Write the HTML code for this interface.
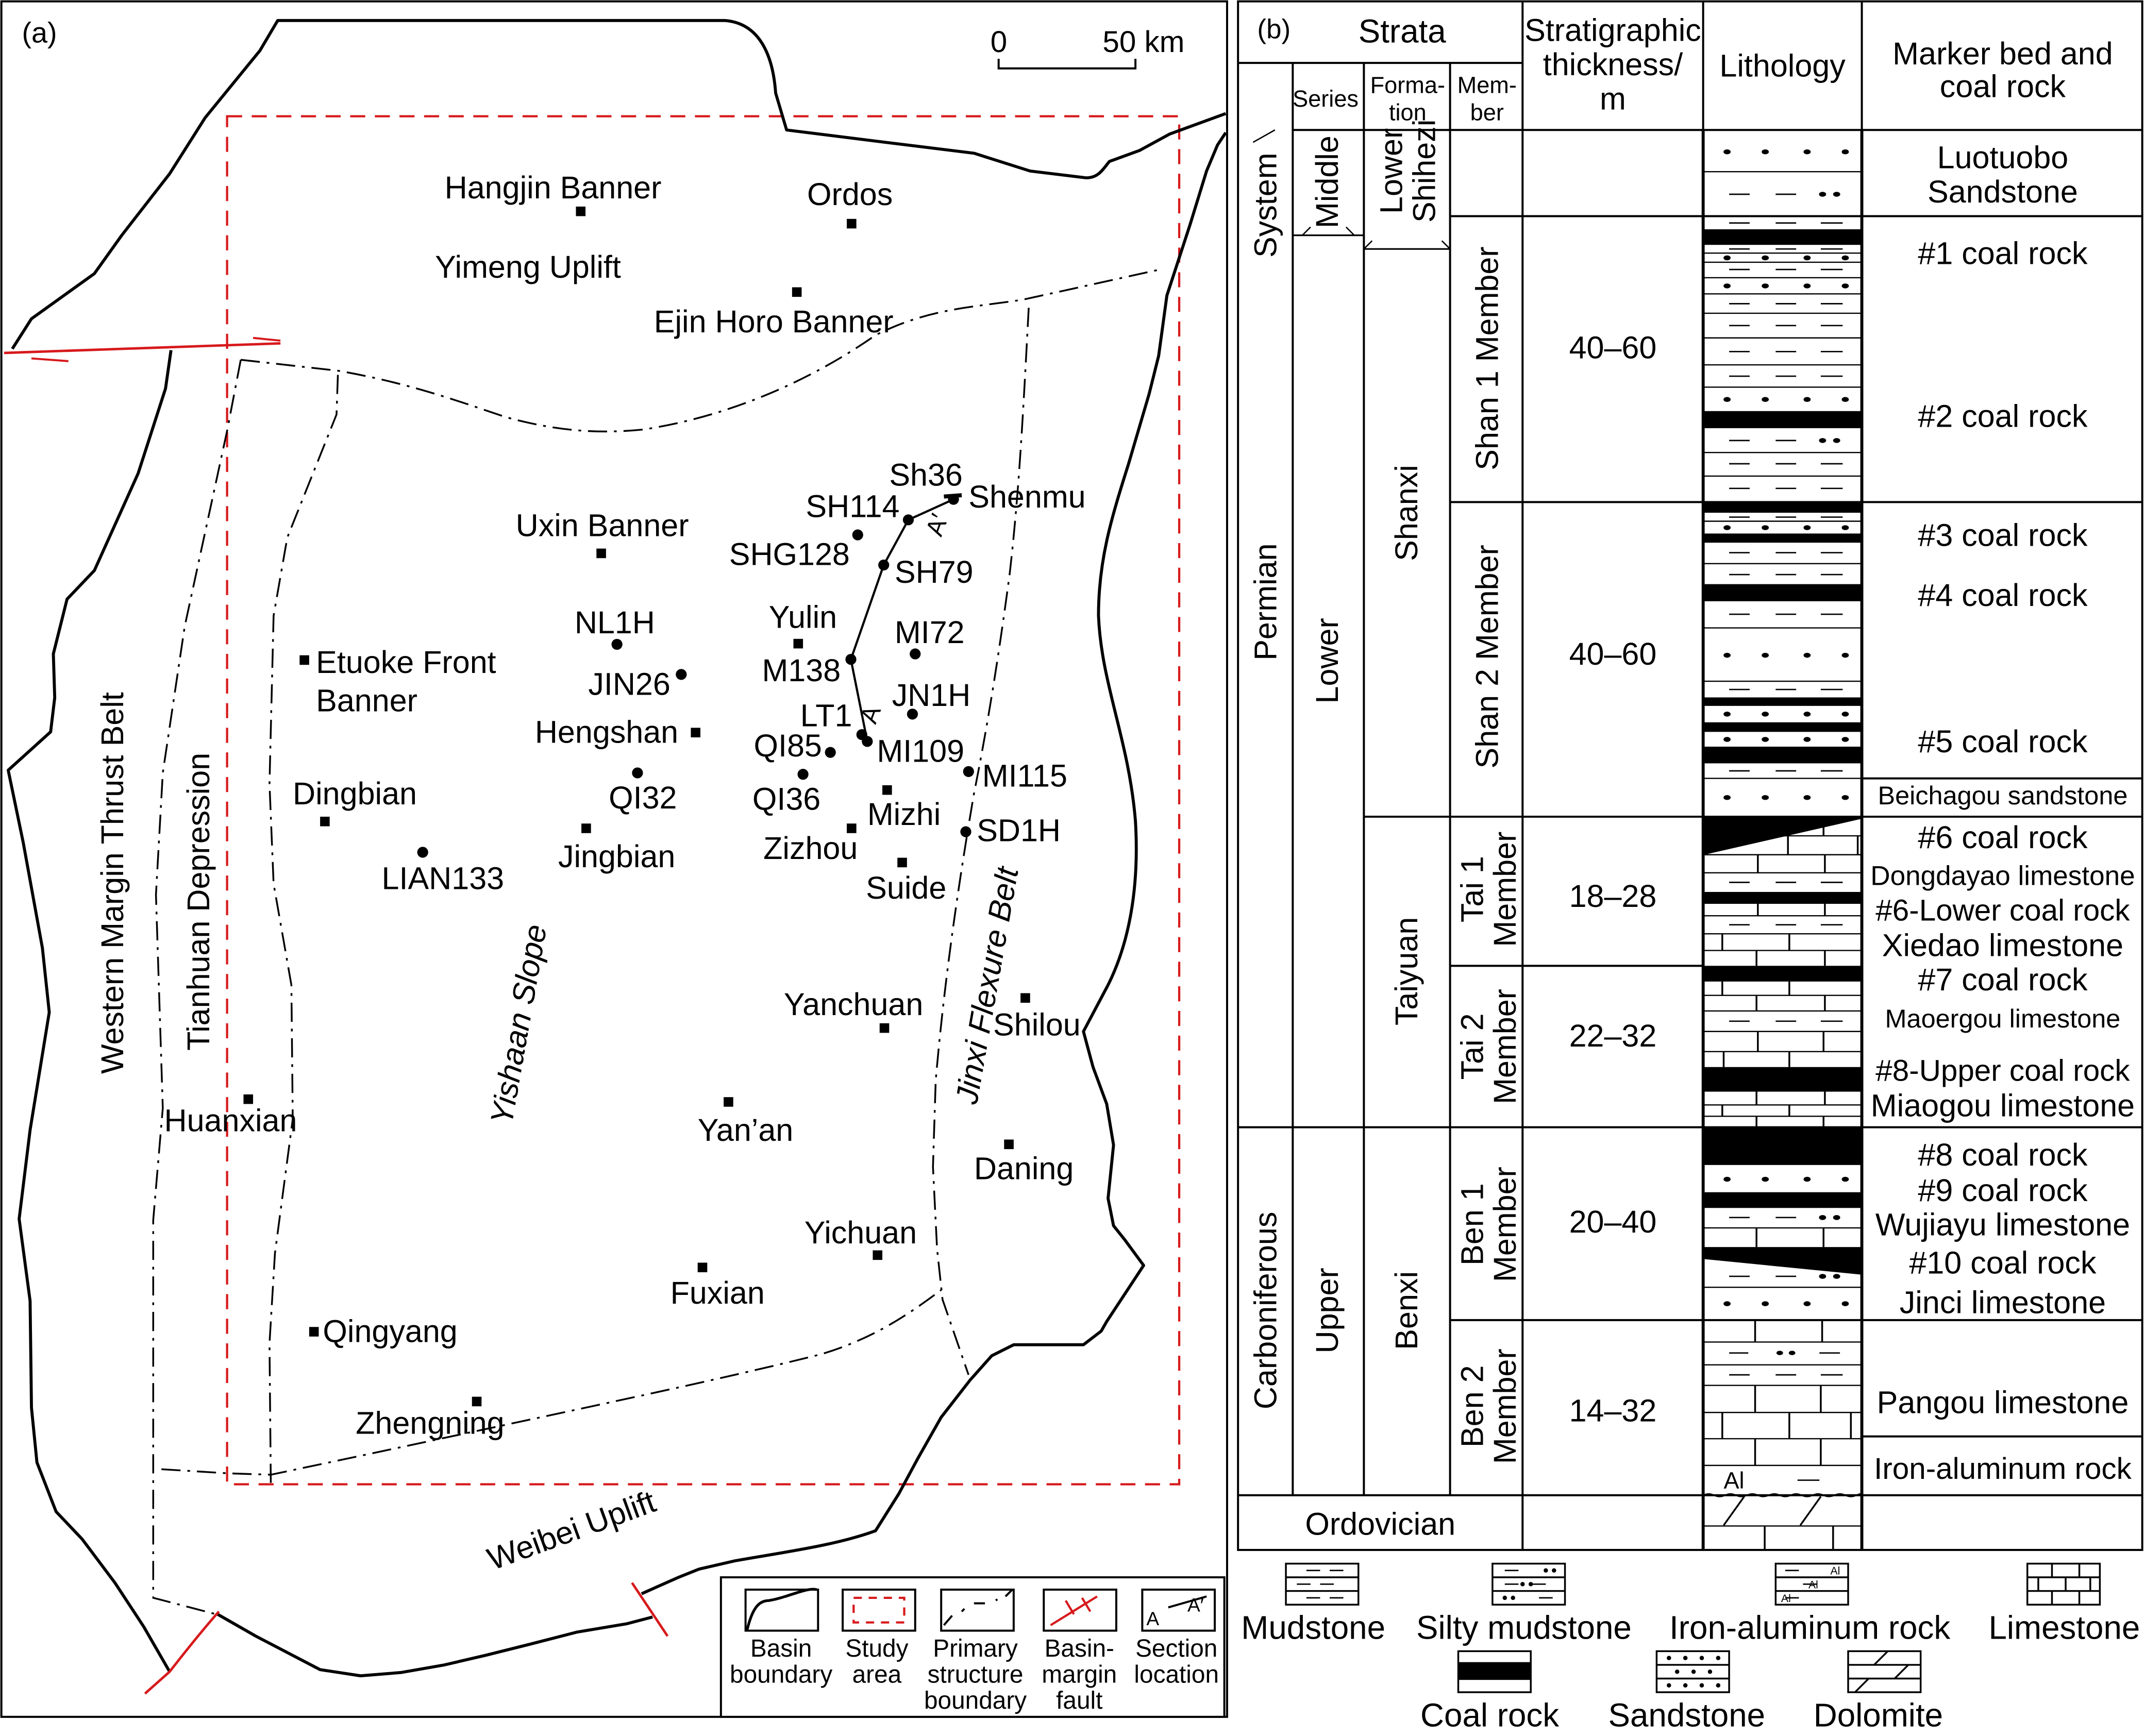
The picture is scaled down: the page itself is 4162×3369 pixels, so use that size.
<!DOCTYPE html>
<html><head><meta charset="utf-8"><style>
html,body{margin:0;padding:0;background:#fff;}
svg{display:block;}
text{font-family:"Liberation Sans",Arial,sans-serif;fill:#000;}
</style></head><body>
<svg width="4162" height="3369" viewBox="0 0 1568 1269" preserveAspectRatio="none" xmlns="http://www.w3.org/2000/svg">
<defs>
<g id="dash"><line x1="1264" y1="0" x2="1279" y2="0" stroke="#000" stroke-width="1"/><line x1="1298" y1="0" x2="1313" y2="0" stroke="#000" stroke-width="1"/><line x1="1331" y1="0" x2="1347" y2="0" stroke="#000" stroke-width="1"/></g>
<g id="dots"><ellipse cx="1262.5" cy="0" rx="2.6" ry="1.8"/><ellipse cx="1290.4" cy="0" rx="2.6" ry="1.8"/><ellipse cx="1321" cy="0" rx="2.6" ry="1.8"/><ellipse cx="1348.9" cy="0" rx="2.6" ry="1.8"/></g>
<g id="dd"><line x1="1264" y1="0" x2="1279" y2="0" stroke="#000" stroke-width="1"/><line x1="1298" y1="0" x2="1313" y2="0" stroke="#000" stroke-width="1"/><ellipse cx="1332.3" cy="0" rx="2.6" ry="1.8"/><ellipse cx="1342.6" cy="0" rx="2.6" ry="1.8"/></g>
</defs>
<rect width="1568" height="1269" fill="#fff"/>

<!-- ===== PANEL A ===== -->
<rect x="1" y="1" width="896" height="1254" fill="none" stroke="#000" stroke-width="1.5"/>
<text x="16" y="31" font-size="21">(a)</text>
<text x="724" y="38" font-size="22">0</text>
<text x="806" y="38" font-size="22">50 km</text>
<path d="M730 43 V50 H830 V43" fill="none" stroke="#000" stroke-width="1.5"/>

<rect x="166" y="85" width="696" height="1000" fill="none" stroke="#d7191c" stroke-width="1.6" stroke-dasharray="11,7"/>

<g fill="none" stroke="#000" stroke-width="2.2" stroke-linejoin="round">
<path d="M9 255 L23 233 L69 200 L89 172 L124 127 L150 86 L190 37 L203 15 L530 15 C555 17 565 40 567 68 L575 95 L647 104 L712 112 L753 125 L794 130 C803 130 806 124 811 118 L833 110 L855 98 L896 83"/>
<path d="M125 256 L121 284 L101 346 L69 417 L49 438 L39 478 L40 510 L37 535 L6 563 L17 616 L31 693 L36 740 L22 826 L14 891 L22 951 L23 1029 L27 1069 L41 1105 L60 1125 L75 1145 L84 1157 L105 1189 L124 1222"/>
<path d="M896 97 L890 106 L882 125 L870 164 L853 216 L847 260 L840 288 L825 339 C812 380 803 410 803 450 C805 500 825 540 830 600 C833 650 825 690 810 720 L792 754 L799 780 L809 807 L814 837 L810 876 L814 896 L822 906 L836 925 L809 966 L805 973 L792 983 L741 983 L725 991 L709 1009 L688 1036 L671 1066 L657 1092 L640 1119 C610 1130 570 1135 537 1141 L511 1147 L496 1153 L469 1165"/>
<path d="M477 1182 L458 1187 L422 1193 L387 1202 L355 1210 L325 1217 L293 1222.6 L263.6 1225 L234 1220.5 L187 1196 L159 1180"/>
</g>

<line x1="3" y1="258" x2="205" y2="251" stroke="#d7191c" stroke-width="1.8"/>
<path d="M185 247 L205 249" stroke="#d7191c" stroke-width="1.5" fill="none"/>
<path d="M23 262 L50 264" stroke="#d7191c" stroke-width="1.5" fill="none"/>
<path d="M106 1238 L124 1222 Q145 1195 160 1178" stroke="#d7191c" stroke-width="1.8" fill="none"/>
<line x1="462" y1="1157" x2="488" y2="1196" stroke="#d7191c" stroke-width="1.8"/>

<g fill="none" stroke="#000" stroke-width="1.3" stroke-dasharray="14,5,2,5">
<path d="M176 263 L247 271 C300 280 340 295 370 305 C400 313 430 318 470 314 C530 305 590 280 640 245 C680 225 710 225 748 219 L848 197"/>
<path d="M176 263 L166 315 L135 458 L119 565 L114 654 L119 810 L112 892 L112 1168 L116 1169 L158 1180"/>
<path d="M247 274 L246 303 L210 393 L200 450 L197 573 L200 646 L213 720 L214 818 L201 916 L197 982 L198 1088"/>
<path d="M752 225 C748 300 745 360 738 420 C730 480 722 530 712 580 C700 650 690 720 684 790 L682 853 L685 913 L689 950 L708 1005"/>
<path d="M118 1074 L167 1077 L198 1078 C260 1065 330 1050 400 1035 C470 1020 540 1005 600 990 C640 978 665 960 688 943"/>
</g>

<polyline points="634,542 622,482 646,413 664,380 697,365" fill="none" stroke="#000" stroke-width="1.6"/>
<line x1="690" y1="363" x2="703" y2="362" stroke="#000" stroke-width="3"/>
<text x="688" y="393" font-size="18" transform="rotate(-70 688 393)">A′</text>
<text x="640" y="530" font-size="18" transform="rotate(-70 640 530)">A</text>

<g fill="#000">
<rect x="421" y="151" width="7" height="7"/><rect x="619" y="160" width="7" height="7"/><rect x="579" y="210" width="7" height="7"/>
<rect x="436" y="401" width="7" height="7"/><rect x="580" y="467" width="7" height="7"/><rect x="219" y="479" width="7" height="7"/>
<rect x="505" y="532" width="7" height="7"/><rect x="234" y="597" width="7" height="7"/><rect x="645" y="574" width="7" height="7"/>
<rect x="425" y="602" width="7" height="7"/><rect x="619" y="602" width="7" height="7"/><rect x="656" y="627" width="7" height="7"/>
<rect x="643" y="748" width="7" height="7"/><rect x="746" y="726" width="7" height="7"/><rect x="178" y="800" width="7" height="7"/>
<rect x="529" y="802" width="7" height="7"/><rect x="734" y="833" width="7" height="7"/><rect x="638" y="914" width="7" height="7"/>
<rect x="510" y="923" width="7" height="7"/><rect x="226" y="970" width="7" height="7"/><rect x="345" y="1021" width="7" height="7"/>
<circle cx="697" cy="365" r="4"/><circle cx="664" cy="380" r="4"/><circle cx="627" cy="391" r="4"/><circle cx="646" cy="413" r="4"/>
<circle cx="669" cy="478" r="4"/><circle cx="451" cy="471" r="4"/><circle cx="498" cy="493" r="4"/><circle cx="622" cy="482" r="4"/>
<circle cx="667" cy="522" r="4"/><circle cx="630" cy="537" r="4"/><circle cx="634" cy="542" r="4"/><circle cx="607" cy="550" r="4"/>
<circle cx="708" cy="564" r="4"/><circle cx="466" cy="565" r="4"/><circle cx="587" cy="566" r="4"/><circle cx="706" cy="608" r="4"/>
<circle cx="309" cy="623" r="4"/>
</g>
<g font-size="23">
<text x="325" y="145">Hangjin Banner</text>
<text x="590" y="150">Ordos</text>
<text x="318" y="203">Yimeng Uplift</text>
<text x="478" y="243">Ejin Horo Banner</text>
<text x="650" y="355">Sh36</text>
<text x="708" y="371">Shenmu</text>
<text x="589" y="378">SH114</text>
<text x="533" y="413">SHG128</text>
<text x="377" y="392">Uxin Banner</text>
<text x="654" y="426">SH79</text>
<text x="562" y="459">Yulin</text>
<text x="654" y="470">MI72</text>
<text x="420" y="463">NL1H</text>
<text x="231" y="492">Etuoke Front</text>
<text x="231" y="520">Banner</text>
<text x="430" y="508">JIN26</text>
<text x="557" y="498">M138</text>
<text x="652" y="516">JN1H</text>
<text x="391" y="543">Hengshan</text>
<text x="585" y="531">LT1</text>
<text x="551" y="553">QI85</text>
<text x="641" y="557">MI109</text>
<text x="718" y="575">MI115</text>
<text x="214" y="588">Dingbian</text>
<text x="445" y="591">QI32</text>
<text x="550" y="592">QI36</text>
<text x="634" y="603">Mizhi</text>
<text x="714" y="615">SD1H</text>
<text x="408" y="634">Jingbian</text>
<text x="558" y="628">Zizhou</text>
<text x="633" y="657">Suide</text>
<text x="279" y="650">LIAN133</text>
<text x="573" y="742">Yanchuan</text>
<text x="726" y="757">Shilou</text>
<text x="120" y="827">Huanxian</text>
<text x="510" y="834">Yan’an</text>
<text x="712" y="862">Daning</text>
<text x="588" y="909">Yichuan</text>
<text x="490" y="953">Fuxian</text>
<text x="236" y="981">Qingyang</text>
<text x="260" y="1048">Zhengning</text>
<text x="0" y="0" transform="translate(90,785) rotate(-90)">Western Margin Thrust Belt</text>
<text x="0" y="0" transform="translate(153,768) rotate(-90)">Tianhuan Depression</text>
<text x="0" y="0" font-style="italic" transform="translate(374,823) rotate(-80)">Yishaan Slope</text>
<text x="0" y="0" font-style="italic" transform="translate(714,808) rotate(-80)">Jinxi Flexure Belt</text>
<text x="0" y="0" transform="translate(360,1148) rotate(-20)">Weibei Uplift</text>
</g>

<rect x="527" y="1153" width="368" height="102" fill="#fff" stroke="#000" stroke-width="1.5"/>
<g fill="none" stroke="#000" stroke-width="1.5">
<rect x="545" y="1162" width="53" height="30"/><rect x="616" y="1162" width="53" height="30"/><rect x="688" y="1162" width="53" height="30"/><rect x="763" y="1162" width="53" height="30"/><rect x="835" y="1162" width="53" height="30"/>
<path d="M546 1192 C550 1175,555 1170,562 1170 C575 1168,590 1160,597 1162" stroke-width="2"/>
<path d="M690 1188 L696 1181 M703 1178 L705 1176 M712 1172 L720 1172 M728 1170 L729 1169 M735 1167 L740 1162"/>
<path d="M854 1175 L882 1167"/>
</g>
<rect x="624" y="1168" width="37" height="18" fill="none" stroke="#d7191c" stroke-width="1.6" stroke-dasharray="6,5"/>
<g stroke="#d7191c" stroke-width="1.6"><line x1="768" y1="1188" x2="802" y2="1167"/><line x1="779" y1="1170" x2="785" y2="1180"/><line x1="791" y1="1168" x2="797" y2="1178"/></g>
<text x="838" y="1188" font-size="14">A</text><text x="868" y="1178" font-size="14">A′</text>
<g font-size="18" text-anchor="middle">
<text x="571" y="1211">Basin</text><text x="571" y="1230">boundary</text>
<text x="641" y="1211">Study</text><text x="641" y="1230">area</text>
<text x="713" y="1211">Primary</text><text x="713" y="1230">structure</text><text x="713" y="1249">boundary</text>
<text x="789" y="1211">Basin-</text><text x="789" y="1230">margin</text><text x="789" y="1249">fault</text>
<text x="860" y="1211">Section</text><text x="860" y="1230">location</text>
</g>

<!-- ===== PANEL B ===== -->
<g stroke="#000" stroke-width="1.5" fill="none">
<rect x="905" y="1" width="661" height="1132"/>
<line x1="1113" y1="1" x2="1113" y2="1133"/>
<line x1="1245" y1="1" x2="1245" y2="1133"/>
<line x1="1361" y1="1" x2="1361" y2="1133"/>
<line x1="945" y1="46" x2="945" y2="1093"/>
<line x1="997" y1="46" x2="997" y2="1093"/>
<line x1="1060" y1="46" x2="1060" y2="1093"/>
<line x1="905" y1="46" x2="1113" y2="46"/>
<line x1="945" y1="95" x2="1566" y2="95"/>
<line x1="1060" y1="158" x2="1566" y2="158"/>
<line x1="1060" y1="367" x2="1566" y2="367"/>
<line x1="997" y1="597" x2="1566" y2="597"/>
<line x1="1060" y1="706" x2="1245" y2="706"/>
<line x1="905" y1="824" x2="1566" y2="824"/>
<line x1="1060" y1="965" x2="1566" y2="965"/>
<line x1="905" y1="1093" x2="1566" y2="1093"/>
<line x1="1361" y1="569" x2="1566" y2="569"/>
<line x1="1361" y1="1050" x2="1566" y2="1050"/>
<line x1="916" y1="104" x2="932" y2="95" stroke-width="1"/>
<path d="M945 172 L952 172 L958 166 M997 172 L990 172 L984 166" stroke-width="1"/>
<path d="M945 172 L997 172" stroke-width="1.2"/>
<path d="M997 182 L1060 182" stroke-width="1.2"/>
<path d="M997 182 L1003 176 M1060 182 L1054 176" stroke-width="1"/>
</g>
<text x="919" y="28" font-size="20">(b)</text>
<text x="993" y="31" font-size="24">Strata</text>
<g font-size="23" text-anchor="middle">
<text x="1179" y="30">Stratigraphic</text><text x="1179" y="55">thickness/</text><text x="1179" y="80">m</text>
<text x="1303" y="56">Lithology</text>
<text x="1464" y="47">Marker bed and</text><text x="1464" y="71">coal rock</text>
</g>
<g font-size="17" text-anchor="middle">
<text x="969" y="78">Series</text>
<text x="1029" y="68">Forma-</text><text x="1029" y="88">tion</text>
<text x="1087" y="68">Mem-</text><text x="1087" y="88">ber</text>
</g>
<g font-size="23" text-anchor="middle">
<text transform="translate(933,150) rotate(-90)">System</text>
<text transform="translate(933,440) rotate(-90)">Permian</text>
<text transform="translate(933,958) rotate(-90)">Carboniferous</text>
<text transform="translate(978,133) rotate(-90)">Middle</text>
<text transform="translate(978,483) rotate(-90)">Lower</text>
<text transform="translate(978,958) rotate(-90)">Upper</text>
<text transform="translate(1025,125) rotate(-90)">Lower</text>
<text transform="translate(1049,125) rotate(-90)">Shihezi</text>
<text transform="translate(1036,375) rotate(-90)">Shanxi</text>
<text transform="translate(1036,710) rotate(-90)">Taiyuan</text>
<text transform="translate(1036,958) rotate(-90)">Benxi</text>
<text transform="translate(1095,262) rotate(-90)">Shan 1 Member</text>
<text transform="translate(1095,480) rotate(-90)">Shan 2 Member</text>
<text transform="translate(1084,650) rotate(-90)">Tai 1</text>
<text transform="translate(1108,650) rotate(-90)">Member</text>
<text transform="translate(1084,765) rotate(-90)">Tai 2</text>
<text transform="translate(1108,765) rotate(-90)">Member</text>
<text transform="translate(1084,895) rotate(-90)">Ben 1</text>
<text transform="translate(1108,895) rotate(-90)">Member</text>
<text transform="translate(1084,1028) rotate(-90)">Ben 2</text>
<text transform="translate(1108,1028) rotate(-90)">Member</text>
<text x="1179" y="262">40–60</text>
<text x="1179" y="486">40–60</text>
<text x="1179" y="663">18–28</text>
<text x="1179" y="765">22–32</text>
<text x="1179" y="901">20–40</text>
<text x="1179" y="1039">14–32</text>
<text x="1009" y="1122">Ordovician</text>
</g>
<g font-size="23" text-anchor="middle">
<text x="1464" y="123">Luotuobo</text><text x="1464" y="148">Sandstone</text>
<text x="1464" y="193">#1 coal rock</text>
<text x="1464" y="312">#2 coal rock</text>
<text x="1464" y="399">#3 coal rock</text>
<text x="1464" y="443">#4 coal rock</text>
<text x="1464" y="550">#5 coal rock</text>
<text x="1464" y="588" font-size="19">Beichagou sandstone</text>
<text x="1464" y="620">#6 coal rock</text>
<text x="1464" y="647" font-size="20">Dongdayao limestone</text>
<text x="1464" y="673" font-size="22">#6-Lower coal rock</text>
<text x="1464" y="699">Xiedao limestone</text>
<text x="1464" y="724">#7 coal rock</text>
<text x="1464" y="751" font-size="19">Maoergou limestone</text>
<text x="1464" y="790" font-size="22">#8-Upper coal rock</text>
<text x="1464" y="816">Miaogou limestone</text>
<text x="1464" y="852">#8 coal rock</text>
<text x="1464" y="878">#9 coal rock</text>
<text x="1464" y="903">Wujiayu limestone</text>
<text x="1464" y="931">#10 coal rock</text>
<text x="1464" y="960">Jinci limestone</text>
<text x="1464" y="1033">Pangou limestone</text>
<text x="1464" y="1081" font-size="22">Iron-aluminum rock</text>
</g>

<g>
<g stroke="#000" stroke-width="0.9">
<line x1="1245" x2="1361" y1="125.5" y2="125.5"/><line x1="1245" x2="1361" y1="185" y2="185"/><line x1="1245" x2="1361" y1="191.7" y2="191.7"/><line x1="1245" x2="1361" y1="203" y2="203"/><line x1="1245" x2="1361" y1="214.8" y2="214.8"/><line x1="1245" x2="1361" y1="229" y2="229"/><line x1="1245" x2="1361" y1="247" y2="247"/><line x1="1245" x2="1361" y1="266.7" y2="266.7"/><line x1="1245" x2="1361" y1="283" y2="283"/><line x1="1245" x2="1361" y1="330.8" y2="330.8"/><line x1="1245" x2="1361" y1="348" y2="348"/><line x1="1245" x2="1361" y1="381" y2="381"/><line x1="1245" x2="1361" y1="412" y2="412"/><line x1="1245" x2="1361" y1="459" y2="459"/><line x1="1245" x2="1361" y1="498" y2="498"/><line x1="1245" x2="1361" y1="569" y2="569"/>
<line x1="1245" x2="1361" y1="611" y2="611"/><line x1="1245" x2="1361" y1="624.8" y2="624.8"/><line x1="1245" x2="1361" y1="638" y2="638"/><line x1="1245" x2="1361" y1="669.4" y2="669.4"/><line x1="1245" x2="1361" y1="682.6" y2="682.6"/><line x1="1245" x2="1361" y1="694.8" y2="694.8"/><line x1="1245" x2="1361" y1="727.6" y2="727.6"/><line x1="1245" x2="1361" y1="739" y2="739"/><line x1="1245" x2="1361" y1="754" y2="754"/><line x1="1245" x2="1361" y1="768.7" y2="768.7"/><line x1="1245" x2="1361" y1="807.7" y2="807.7"/><line x1="1245" x2="1361" y1="816" y2="816"/><line x1="1245" x2="1361" y1="897.6" y2="897.6"/><line x1="1245" x2="1361" y1="941" y2="941"/><line x1="1245" x2="1361" y1="981" y2="981"/><line x1="1245" x2="1361" y1="997.7" y2="997.7"/><line x1="1245" x2="1361" y1="1012.7" y2="1012.7"/><line x1="1245" x2="1361" y1="1032.5" y2="1032.5"/><line x1="1245" x2="1361" y1="1051.7" y2="1051.7"/><line x1="1245" x2="1361" y1="1071.2" y2="1071.2"/><line x1="1245" x2="1361" y1="1115.5" y2="1115.5"/>
</g>
<g fill="#000">
<rect x="1245" y="167.6" width="116" height="11.4"/><rect x="1245" y="300.5" width="116" height="12.5"/><rect x="1245" y="366.7" width="116" height="8.1"/><rect x="1245" y="390" width="116" height="6.7"/><rect x="1245" y="427" width="116" height="12.5"/><rect x="1245" y="509.8" width="116" height="6.2"/><rect x="1245" y="528" width="116" height="7"/><rect x="1245" y="545.8" width="116" height="12.2"/>
<polygon points="1245,596.5 1361,596.5 1361,598.5 1245,625"/>
<rect x="1245" y="652" width="116" height="8.7"/><rect x="1245" y="706" width="116" height="11.5"/><rect x="1245" y="780" width="116" height="18"/><rect x="1245" y="824.5" width="116" height="27.1"/><rect x="1245" y="871.5" width="116" height="11.5"/>
<polygon points="1245,911.6 1361,911.6 1361,931.8 1245,920.3"/>
</g>
<use href="#dots" y="111"/><use href="#dd" y="142"/><use href="#dash" y="163"/><use href="#dash" y="182"/><use href="#dots" y="188.5"/><use href="#dash" y="197"/><use href="#dots" y="209"/><use href="#dash" y="222"/><use href="#dash" y="238"/><use href="#dash" y="257"/><use href="#dash" y="275"/><use href="#dots" y="292"/><use href="#dd" y="322"/><use href="#dash" y="339"/><use href="#dash" y="357"/><use href="#dash" y="378"/><use href="#dots" y="385.7"/><use href="#dash" y="404"/><use href="#dash" y="420"/><use href="#dash" y="449"/><use href="#dots" y="479"/><use href="#dash" y="504"/><use href="#dots" y="522"/><use href="#dots" y="540.5"/><use href="#dash" y="563.5"/><use href="#dots" y="583"/>
<use href="#dash" y="645"/><use href="#dash" y="676"/><use href="#dash" y="746.5"/><use href="#dots" y="862"/><use href="#dd" y="890"/><use href="#dd" y="933"/><use href="#dots" y="953"/>
<line x1="1264" y1="989" x2="1278" y2="989" stroke="#000"/><line x1="1330" y1="989" x2="1345" y2="989" stroke="#000"/><ellipse cx="1301" cy="989" rx="2.4" ry="1.6"/><ellipse cx="1310" cy="989" rx="2.4" ry="1.6"/>
<use href="#dash" y="1005"/>
<g stroke="#000" stroke-width="1.3">
<line x1="1333" y1="598" x2="1333" y2="611"/><line x1="1307" y1="611" x2="1307" y2="624.8"/><line x1="1358" y1="611" x2="1358" y2="624.8"/><line x1="1285" y1="624.8" x2="1285" y2="638"/><line x1="1334" y1="624.8" x2="1334" y2="638"/>
<line x1="1285" y1="660.7" x2="1285" y2="669.4"/><line x1="1334" y1="660.7" x2="1334" y2="669.4"/><line x1="1259" y1="682.6" x2="1259" y2="694.8"/><line x1="1308" y1="682.6" x2="1308" y2="694.8"/><line x1="1284" y1="694.8" x2="1284" y2="706"/><line x1="1334" y1="694.8" x2="1334" y2="706"/>
<line x1="1259" y1="717.5" x2="1259" y2="727.6"/><line x1="1308" y1="717.5" x2="1308" y2="727.6"/><line x1="1284" y1="727.6" x2="1284" y2="739"/><line x1="1334" y1="727.6" x2="1334" y2="739"/><line x1="1285" y1="754" x2="1285" y2="768.7"/><line x1="1333" y1="754" x2="1333" y2="768.7"/><line x1="1260" y1="768.7" x2="1260" y2="780"/><line x1="1308" y1="768.7" x2="1308" y2="780"/>
<line x1="1284" y1="798" x2="1284" y2="807.7"/><line x1="1334" y1="798" x2="1334" y2="807.7"/><line x1="1259" y1="807.7" x2="1259" y2="816"/><line x1="1308" y1="807.7" x2="1308" y2="816"/><line x1="1284" y1="816" x2="1284" y2="824.5"/><line x1="1333" y1="816" x2="1333" y2="824.5"/>
<line x1="1284" y1="897.6" x2="1284" y2="911.6"/><line x1="1333" y1="897.6" x2="1333" y2="911.6"/>
<line x1="1283" y1="965.6" x2="1283" y2="981"/><line x1="1332" y1="965.6" x2="1332" y2="981"/><line x1="1283" y1="1012.7" x2="1283" y2="1032.5"/><line x1="1331" y1="1012.7" x2="1331" y2="1032.5"/><line x1="1259" y1="1032.5" x2="1259" y2="1051.7"/><line x1="1308" y1="1032.5" x2="1308" y2="1051.7"/><line x1="1353" y1="1032.5" x2="1353" y2="1051.7"/><line x1="1283" y1="1051.7" x2="1283" y2="1071.2"/><line x1="1331" y1="1051.7" x2="1331" y2="1071.2"/>
<line x1="1290" y1="1115.5" x2="1290" y2="1133"/><line x1="1340" y1="1115.5" x2="1340" y2="1133"/>
<line x1="1260" y1="1115" x2="1275" y2="1094"/><line x1="1316" y1="1115" x2="1331" y2="1094"/>
</g>
<text x="1260" y="1088" font-size="17">Al</text>
<line x1="1314" y1="1082" x2="1330" y2="1082" stroke="#000"/>
<path d="M1245 1093 q4 -2 8 0 t8 0 t8 0 t8 0 t8 0 t8 0 t8 0 t8 0 t8 0 t8 0 t8 0 t8 0 t8 0 t8 0 t4 0" fill="none" stroke="#000" stroke-width="0.9"/>
<line x1="1245" y1="95" x2="1245" y2="1133" stroke="#000" stroke-width="2.2"/>
<line x1="1361" y1="95" x2="1361" y2="1133" stroke="#000" stroke-width="2.2"/>
</g>

<g stroke="#000" stroke-width="1.3" fill="none">
<rect x="940" y="1143" width="53" height="30"/><rect x="1091" y="1143" width="53" height="30"/><rect x="1298" y="1143" width="53" height="30"/><rect x="1482" y="1143" width="53" height="30"/>
<rect x="1066" y="1207" width="53" height="30"/><rect x="1211" y="1207" width="53" height="30"/><rect x="1351" y="1207" width="53" height="30"/>
<path d="M940 1153 H993 M940 1163 H993 M1091 1153 H1144 M1091 1163 H1144 M1298 1153 H1351 M1298 1163 H1351 M1482 1153 H1535 M1482 1163 H1535 M1500 1143 V1153 M1520 1143 V1153 M1490 1153 V1163 M1510 1153 V1163 M1528 1153 V1163 M1500 1163 V1173 M1520 1163 V1173"/>
<path d="M1211 1217 H1264 M1211 1227 H1264 M1351 1217 H1404 M1351 1227 H1404 M1356 1237 L1366 1227 M1385 1227 L1395 1217 M1370 1217 L1380 1207"/>
<path d="M955 1148 H965 M972 1148 H982 M948 1158 H958 M965 1158 H975 M955 1168 H965 M972 1168 H982" stroke-width="1"/>
<path d="M1100 1158 H1110 M1120 1158 H1130 M1100 1148 H1110 M1125 1168 H1135" stroke-width="1"/>
<path d="M1305 1148 H1315 M1318 1158 H1328 M1305 1168 H1315" stroke-width="1"/>
</g>
<rect x="1066" y="1215" width="53" height="13" fill="#000"/>
<g fill="#000"><circle cx="1130" cy="1148" r="1.6"/><circle cx="1136" cy="1148" r="1.6"/><circle cx="1113" cy="1158" r="1.6"/><circle cx="1119" cy="1158" r="1.6"/><circle cx="1100" cy="1168" r="1.6"/><circle cx="1106" cy="1168" r="1.6"/>
<circle cx="1220" cy="1212" r="1.6"/><circle cx="1232" cy="1212" r="1.6"/><circle cx="1244" cy="1212" r="1.6"/><circle cx="1256" cy="1212" r="1.6"/><circle cx="1226" cy="1222" r="1.6"/><circle cx="1238" cy="1222" r="1.6"/><circle cx="1250" cy="1222" r="1.6"/><circle cx="1220" cy="1232" r="1.6"/><circle cx="1232" cy="1232" r="1.6"/><circle cx="1244" cy="1232" r="1.6"/><circle cx="1256" cy="1232" r="1.6"/></g>
<g font-size="8"><text x="1338" y="1151">Al</text><text x="1322" y="1161">Al</text><text x="1302" y="1171">Al</text></g>
<g font-size="24" text-anchor="middle">
<text x="960" y="1198">Mudstone</text>
<text x="1114" y="1198">Silty mudstone</text>
<text x="1323" y="1198">Iron-aluminum rock</text>
<text x="1509" y="1198">Limestone</text>
<text x="1089" y="1262">Coal rock</text>
<text x="1233" y="1262">Sandstone</text>
<text x="1373" y="1262">Dolomite</text>
</g>
</svg>
</body></html>
